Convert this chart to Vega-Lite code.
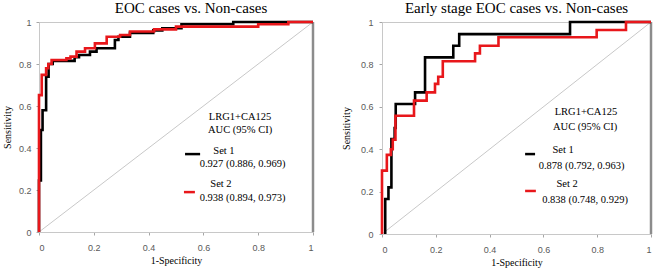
{
  "$schema": "https://vega.github.io/schema/vega-lite/v6.json",
  "padding": {"left": 1, "top": 0, "right": 0, "bottom": 0},
  "background": "white",
  "spacing": 21,
  "config": {
    "view": {"stroke": "#c8c8c8", "strokeWidth": 1},
    "axis": {
      "grid": false,
      "labelFont": "Liberation Sans",
      "labelFontSize": 9,
      "labelColor": "#595959",
      "titleFont": "Liberation Serif",
      "titleFontSize": 10,
      "titleFontWeight": "normal",
      "titleColor": "#000000",
      "tickColor": "#a6a6a6",
      "domainColor": "#c8c8c8",
      "tickSize": 3
    },
    "title": {"font": "Liberation Serif", "fontSize": 15, "fontWeight": "normal", "color": "#000000", "offset": 1}
  },
  "datasets": {
    "rocL": [
      {"set": "Set 1", "o": 1, "fpr": 0, "tpr": 0},
      {"set": "Set 1", "o": 2, "fpr": 0, "tpr": 0.245},
      {"set": "Set 1", "o": 3, "fpr": 0.007, "tpr": 0.245},
      {"set": "Set 1", "o": 4, "fpr": 0.007, "tpr": 0.486},
      {"set": "Set 1", "o": 5, "fpr": 0.013, "tpr": 0.486},
      {"set": "Set 1", "o": 6, "fpr": 0.013, "tpr": 0.58},
      {"set": "Set 1", "o": 7, "fpr": 0.026, "tpr": 0.58},
      {"set": "Set 1", "o": 8, "fpr": 0.026, "tpr": 0.74},
      {"set": "Set 1", "o": 9, "fpr": 0.035, "tpr": 0.74},
      {"set": "Set 1", "o": 10, "fpr": 0.035, "tpr": 0.8},
      {"set": "Set 1", "o": 11, "fpr": 0.05, "tpr": 0.8},
      {"set": "Set 1", "o": 12, "fpr": 0.05, "tpr": 0.815},
      {"set": "Set 1", "o": 13, "fpr": 0.13, "tpr": 0.815},
      {"set": "Set 1", "o": 14, "fpr": 0.13, "tpr": 0.832},
      {"set": "Set 1", "o": 15, "fpr": 0.146, "tpr": 0.832},
      {"set": "Set 1", "o": 16, "fpr": 0.146, "tpr": 0.843},
      {"set": "Set 1", "o": 17, "fpr": 0.186, "tpr": 0.843},
      {"set": "Set 1", "o": 18, "fpr": 0.186, "tpr": 0.859},
      {"set": "Set 1", "o": 19, "fpr": 0.21, "tpr": 0.859},
      {"set": "Set 1", "o": 20, "fpr": 0.21, "tpr": 0.875},
      {"set": "Set 1", "o": 21, "fpr": 0.277, "tpr": 0.875},
      {"set": "Set 1", "o": 22, "fpr": 0.277, "tpr": 0.914},
      {"set": "Set 1", "o": 23, "fpr": 0.29, "tpr": 0.914},
      {"set": "Set 1", "o": 24, "fpr": 0.29, "tpr": 0.93},
      {"set": "Set 1", "o": 25, "fpr": 0.332, "tpr": 0.93},
      {"set": "Set 1", "o": 26, "fpr": 0.332, "tpr": 0.948},
      {"set": "Set 1", "o": 27, "fpr": 0.417, "tpr": 0.948},
      {"set": "Set 1", "o": 28, "fpr": 0.417, "tpr": 0.96},
      {"set": "Set 1", "o": 29, "fpr": 0.45, "tpr": 0.96},
      {"set": "Set 1", "o": 30, "fpr": 0.45, "tpr": 0.97},
      {"set": "Set 1", "o": 31, "fpr": 0.52, "tpr": 0.97},
      {"set": "Set 1", "o": 32, "fpr": 0.52, "tpr": 0.989},
      {"set": "Set 1", "o": 33, "fpr": 0.709, "tpr": 0.989},
      {"set": "Set 1", "o": 34, "fpr": 0.709, "tpr": 1},
      {"set": "Set 1", "o": 35, "fpr": 1, "tpr": 1},
      {"set": "Set 2", "o": 1, "fpr": 0, "tpr": 0},
      {"set": "Set 2", "o": 2, "fpr": 0, "tpr": 0.652},
      {"set": "Set 2", "o": 3, "fpr": 0.01, "tpr": 0.652},
      {"set": "Set 2", "o": 4, "fpr": 0.01, "tpr": 0.748},
      {"set": "Set 2", "o": 5, "fpr": 0.026, "tpr": 0.748},
      {"set": "Set 2", "o": 6, "fpr": 0.026, "tpr": 0.78},
      {"set": "Set 2", "o": 7, "fpr": 0.034, "tpr": 0.78},
      {"set": "Set 2", "o": 8, "fpr": 0.034, "tpr": 0.8},
      {"set": "Set 2", "o": 9, "fpr": 0.046, "tpr": 0.8},
      {"set": "Set 2", "o": 10, "fpr": 0.046, "tpr": 0.819},
      {"set": "Set 2", "o": 11, "fpr": 0.1, "tpr": 0.819},
      {"set": "Set 2", "o": 12, "fpr": 0.1, "tpr": 0.827},
      {"set": "Set 2", "o": 13, "fpr": 0.115, "tpr": 0.827},
      {"set": "Set 2", "o": 14, "fpr": 0.115, "tpr": 0.835},
      {"set": "Set 2", "o": 15, "fpr": 0.137, "tpr": 0.835},
      {"set": "Set 2", "o": 16, "fpr": 0.137, "tpr": 0.859},
      {"set": "Set 2", "o": 17, "fpr": 0.168, "tpr": 0.859},
      {"set": "Set 2", "o": 18, "fpr": 0.168, "tpr": 0.875},
      {"set": "Set 2", "o": 19, "fpr": 0.204, "tpr": 0.875},
      {"set": "Set 2", "o": 20, "fpr": 0.204, "tpr": 0.898},
      {"set": "Set 2", "o": 21, "fpr": 0.247, "tpr": 0.898},
      {"set": "Set 2", "o": 22, "fpr": 0.247, "tpr": 0.93},
      {"set": "Set 2", "o": 23, "fpr": 0.296, "tpr": 0.93},
      {"set": "Set 2", "o": 24, "fpr": 0.296, "tpr": 0.938},
      {"set": "Set 2", "o": 25, "fpr": 0.332, "tpr": 0.938},
      {"set": "Set 2", "o": 26, "fpr": 0.332, "tpr": 0.955},
      {"set": "Set 2", "o": 27, "fpr": 0.42, "tpr": 0.955},
      {"set": "Set 2", "o": 28, "fpr": 0.42, "tpr": 0.965},
      {"set": "Set 2", "o": 29, "fpr": 0.5, "tpr": 0.965},
      {"set": "Set 2", "o": 30, "fpr": 0.5, "tpr": 0.978},
      {"set": "Set 2", "o": 31, "fpr": 0.8, "tpr": 0.978},
      {"set": "Set 2", "o": 32, "fpr": 0.8, "tpr": 0.989},
      {"set": "Set 2", "o": 33, "fpr": 0.91, "tpr": 0.989},
      {"set": "Set 2", "o": 34, "fpr": 0.91, "tpr": 1},
      {"set": "Set 2", "o": 35, "fpr": 1, "tpr": 1}
    ],
    "rocR": [
      {"set": "Set 1", "o": 1, "fpr": 0.012, "tpr": 0},
      {"set": "Set 1", "o": 2, "fpr": 0.012, "tpr": 0.165},
      {"set": "Set 1", "o": 3, "fpr": 0.024, "tpr": 0.165},
      {"set": "Set 1", "o": 4, "fpr": 0.024, "tpr": 0.22},
      {"set": "Set 1", "o": 5, "fpr": 0.035, "tpr": 0.22},
      {"set": "Set 1", "o": 6, "fpr": 0.035, "tpr": 0.448},
      {"set": "Set 1", "o": 7, "fpr": 0.047, "tpr": 0.448},
      {"set": "Set 1", "o": 8, "fpr": 0.047, "tpr": 0.5},
      {"set": "Set 1", "o": 9, "fpr": 0.051, "tpr": 0.5},
      {"set": "Set 1", "o": 10, "fpr": 0.051, "tpr": 0.613},
      {"set": "Set 1", "o": 11, "fpr": 0.123, "tpr": 0.613},
      {"set": "Set 1", "o": 12, "fpr": 0.123, "tpr": 0.668},
      {"set": "Set 1", "o": 13, "fpr": 0.16, "tpr": 0.668},
      {"set": "Set 1", "o": 14, "fpr": 0.16, "tpr": 0.833},
      {"set": "Set 1", "o": 15, "fpr": 0.265, "tpr": 0.833},
      {"set": "Set 1", "o": 16, "fpr": 0.265, "tpr": 0.888},
      {"set": "Set 1", "o": 17, "fpr": 0.287, "tpr": 0.888},
      {"set": "Set 1", "o": 18, "fpr": 0.287, "tpr": 0.943},
      {"set": "Set 1", "o": 19, "fpr": 0.699, "tpr": 0.943},
      {"set": "Set 1", "o": 20, "fpr": 0.699, "tpr": 1},
      {"set": "Set 1", "o": 21, "fpr": 1, "tpr": 1},
      {"set": "Set 2", "o": 1, "fpr": 0, "tpr": 0},
      {"set": "Set 2", "o": 2, "fpr": 0, "tpr": 0.299},
      {"set": "Set 2", "o": 3, "fpr": 0.018, "tpr": 0.299},
      {"set": "Set 2", "o": 4, "fpr": 0.018, "tpr": 0.373},
      {"set": "Set 2", "o": 5, "fpr": 0.033, "tpr": 0.373},
      {"set": "Set 2", "o": 6, "fpr": 0.033, "tpr": 0.4},
      {"set": "Set 2", "o": 7, "fpr": 0.04, "tpr": 0.4},
      {"set": "Set 2", "o": 8, "fpr": 0.04, "tpr": 0.445},
      {"set": "Set 2", "o": 9, "fpr": 0.05, "tpr": 0.445},
      {"set": "Set 2", "o": 10, "fpr": 0.05, "tpr": 0.558},
      {"set": "Set 2", "o": 11, "fpr": 0.119, "tpr": 0.558},
      {"set": "Set 2", "o": 12, "fpr": 0.119, "tpr": 0.629},
      {"set": "Set 2", "o": 13, "fpr": 0.166, "tpr": 0.629},
      {"set": "Set 2", "o": 14, "fpr": 0.166, "tpr": 0.668},
      {"set": "Set 2", "o": 15, "fpr": 0.197, "tpr": 0.668},
      {"set": "Set 2", "o": 16, "fpr": 0.197, "tpr": 0.708},
      {"set": "Set 2", "o": 17, "fpr": 0.209, "tpr": 0.708},
      {"set": "Set 2", "o": 18, "fpr": 0.209, "tpr": 0.742},
      {"set": "Set 2", "o": 19, "fpr": 0.226, "tpr": 0.742},
      {"set": "Set 2", "o": 20, "fpr": 0.226, "tpr": 0.815},
      {"set": "Set 2", "o": 21, "fpr": 0.346, "tpr": 0.815},
      {"set": "Set 2", "o": 22, "fpr": 0.346, "tpr": 0.852},
      {"set": "Set 2", "o": 23, "fpr": 0.364, "tpr": 0.852},
      {"set": "Set 2", "o": 24, "fpr": 0.364, "tpr": 0.888},
      {"set": "Set 2", "o": 25, "fpr": 0.433, "tpr": 0.888},
      {"set": "Set 2", "o": 26, "fpr": 0.433, "tpr": 0.928},
      {"set": "Set 2", "o": 27, "fpr": 0.798, "tpr": 0.928},
      {"set": "Set 2", "o": 28, "fpr": 0.798, "tpr": 0.962},
      {"set": "Set 2", "o": 29, "fpr": 0.907, "tpr": 0.962},
      {"set": "Set 2", "o": 30, "fpr": 0.907, "tpr": 1},
      {"set": "Set 2", "o": 31, "fpr": 1, "tpr": 1}
    ],
    "diag": [{"x": 0, "y": 0, "x2": 1, "y2": 1}],
    "edge": [{"x": 1, "y": 0, "y2": 1}],
    "labL": [
      {"t": "LRG1+CA125", "x": 0.734, "y": 0.548},
      {"t": "AUC (95% CI)", "x": 0.734, "y": 0.486},
      {"t": "Set 1", "x": 0.675, "y": 0.386},
      {"t": "0.927 (0.886, 0.969)", "x": 0.743, "y": 0.324},
      {"t": "Set 2", "x": 0.664, "y": 0.229},
      {"t": "0.938 (0.894, 0.973)", "x": 0.743, "y": 0.162}
    ],
    "keyL": [
      {"set": "Set 1", "x": 0.533, "x2": 0.588, "y": 0.371},
      {"set": "Set 2", "x": 0.529, "x2": 0.569, "y": 0.19}
    ],
    "labR": [
      {"t": "LRG1+CA125", "x": 0.758, "y": 0.575},
      {"t": "AUC (95% CI)", "x": 0.755, "y": 0.505},
      {"t": "Set 1", "x": 0.673, "y": 0.396},
      {"t": "0.878 (0.792, 0.963)", "x": 0.742, "y": 0.321},
      {"t": "Set 2", "x": 0.688, "y": 0.236},
      {"t": "0.838 (0.748, 0.929)", "x": 0.755, "y": 0.16}
    ],
    "keyR": [
      {"set": "Set 1", "x": 0.532, "x2": 0.569, "y": 0.377},
      {"set": "Set 2", "x": 0.532, "x2": 0.572, "y": 0.203}
    ]
  },
  "hconcat": [
    {
      "width": 274,
      "height": 210,
      "title": {"text": "EOC cases vs. Non-cases", "dx": 15},
      "layer": [
        {
          "data": {"name": "diag"},
          "mark": {"type": "rule", "color": "#c8c8c8", "strokeWidth": 1},
          "encoding": {
            "x": {"field": "x", "type": "quantitative", "scale": {"domain": [0, 1], "nice": false}, "axis": {"values": [0, 0.2, 0.4, 0.6, 0.8, 1], "format": "~g", "title": "1-Specificity", "labelPadding": 8, "titlePadding": 3}},
            "y": {"field": "y", "type": "quantitative", "scale": {"domain": [0, 1], "nice": false}, "axis": {"values": [0, 0.2, 0.4, 0.6, 0.8, 1], "format": "~g", "title": "Sensitivity", "labelPadding": 5, "titlePadding": 6}},
            "x2": {"field": "x2"},
            "y2": {"field": "y2"}
          }
        },
        {
          "data": {"name": "edge"},
          "mark": {"type": "rule", "color": "#8c8c8c", "strokeWidth": 2.5},
          "encoding": {
            "x": {"field": "x", "type": "quantitative"},
            "y": {"field": "y", "type": "quantitative"},
            "y2": {"field": "y2"}
          }
        },
        {
          "data": {"name": "rocL"},
          "mark": {"type": "line", "strokeWidth": 2.6, "interpolate": "linear", "clip": false},
          "encoding": {
            "x": {"field": "fpr", "type": "quantitative"},
            "y": {"field": "tpr", "type": "quantitative"},
            "color": {"field": "set", "type": "nominal", "scale": {"domain": ["Set 1", "Set 2"], "range": ["#000000", "#e8171b"]}, "legend": null},
            "order": {"field": "o", "type": "quantitative"}
          }
        },
        {
          "data": {"name": "keyL"},
          "mark": {"type": "rule", "strokeWidth": 2.5},
          "encoding": {
            "x": {"field": "x", "type": "quantitative"},
            "x2": {"field": "x2"},
            "y": {"field": "y", "type": "quantitative"},
            "color": {"field": "set", "type": "nominal", "legend": null}
          }
        },
        {
          "data": {"name": "labL"},
          "mark": {"type": "text", "font": "Liberation Serif", "fontSize": 10.5, "color": "#000000", "align": "center", "baseline": "middle"},
          "encoding": {
            "x": {"field": "x", "type": "quantitative"},
            "y": {"field": "y", "type": "quantitative"},
            "text": {"field": "t"}
          }
        }
      ]
    },
    {
      "width": 269,
      "height": 212,
      "title": {"text": "Early stage EOC cases vs. Non-cases"},
      "layer": [
        {
          "data": {"name": "diag"},
          "mark": {"type": "rule", "color": "#c8c8c8", "strokeWidth": 1},
          "encoding": {
            "x": {"field": "x", "type": "quantitative", "scale": {"domain": [0, 1], "nice": false}, "axis": {"values": [0, 0.2, 0.4, 0.6, 0.8, 1], "format": "~g", "title": "1-Specificity", "labelPadding": 8, "titlePadding": 3}},
            "y": {"field": "y", "type": "quantitative", "scale": {"domain": [0, 1], "nice": false}, "axis": {"values": [0, 0.2, 0.4, 0.6, 0.8, 1], "format": "~g", "title": "Sensitivity", "labelPadding": 6, "titlePadding": 9}},
            "x2": {"field": "x2"},
            "y2": {"field": "y2"}
          }
        },
        {
          "data": {"name": "edge"},
          "mark": {"type": "rule", "color": "#8c8c8c", "strokeWidth": 2.5},
          "encoding": {
            "x": {"field": "x", "type": "quantitative"},
            "y": {"field": "y", "type": "quantitative"},
            "y2": {"field": "y2"}
          }
        },
        {
          "data": {"name": "rocR"},
          "mark": {"type": "line", "strokeWidth": 2.6, "interpolate": "linear", "clip": false},
          "encoding": {
            "x": {"field": "fpr", "type": "quantitative"},
            "y": {"field": "tpr", "type": "quantitative"},
            "color": {"field": "set", "type": "nominal", "scale": {"domain": ["Set 1", "Set 2"], "range": ["#000000", "#e8171b"]}, "legend": null},
            "order": {"field": "o", "type": "quantitative"}
          }
        },
        {
          "data": {"name": "keyR"},
          "mark": {"type": "rule", "strokeWidth": 2.5},
          "encoding": {
            "x": {"field": "x", "type": "quantitative"},
            "x2": {"field": "x2"},
            "y": {"field": "y", "type": "quantitative"},
            "color": {"field": "set", "type": "nominal", "legend": null}
          }
        },
        {
          "data": {"name": "labR"},
          "mark": {"type": "text", "font": "Liberation Serif", "fontSize": 10.5, "color": "#000000", "align": "center", "baseline": "middle"},
          "encoding": {
            "x": {"field": "x", "type": "quantitative"},
            "y": {"field": "y", "type": "quantitative"},
            "text": {"field": "t"}
          }
        }
      ]
    }
  ]
}
